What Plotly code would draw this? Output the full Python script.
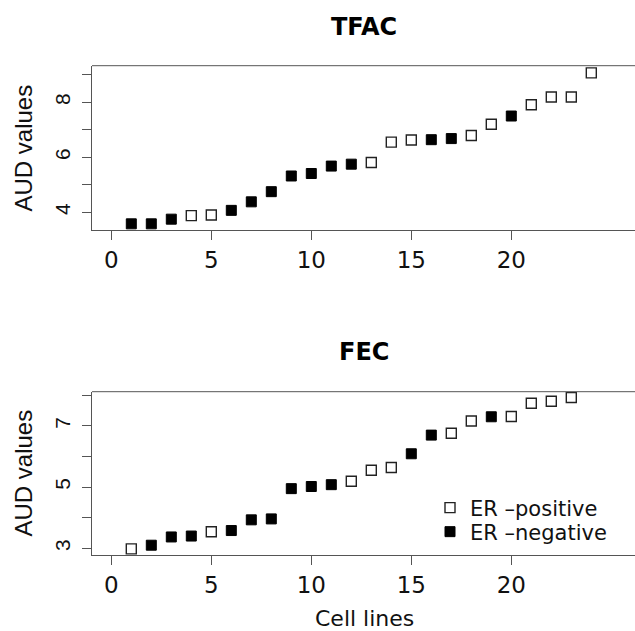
import plotly.graph_objects as go

# ---- data ----
tfac_x = list(range(1, 25))
tfac_y = [3.58, 3.58, 3.75, 3.88, 3.90, 4.07, 4.38, 4.75, 5.32, 5.41, 5.68, 5.75,
          5.81, 6.55, 6.63, 6.64, 6.68, 6.79, 7.20, 7.50, 7.91, 8.19, 8.19, 9.07]
tfac_er = ["neg", "neg", "neg", "pos", "pos", "neg", "neg", "neg", "neg", "neg", "neg", "neg",
           "pos", "pos", "pos", "neg", "neg", "pos", "pos", "neg", "pos", "pos", "pos", "pos"]

fec_x = list(range(1, 24))
fec_y = [2.98, 3.10, 3.37, 3.40, 3.54, 3.58, 3.93, 3.96, 4.95, 5.02, 5.08, 5.19,
         5.55, 5.64, 6.09, 6.70, 6.76, 7.16, 7.30, 7.31, 7.74, 7.81, 7.93]
fec_er = ["pos", "neg", "neg", "neg", "pos", "neg", "neg", "neg", "neg", "neg", "neg", "pos",
          "pos", "pos", "neg", "neg", "pos", "pos", "neg", "pos", "pos", "pos", "pos"]

x_ticks = [0, 5, 10, 15, 20]
tfac_yticks = [4, 5, 6, 7, 8, 9]
tfac_ylabels = ["4", "", "6", "", "8", ""]
fec_yticks = [3, 4, 5, 6, 7, 8]
fec_ylabels = ["3", "", "5", "", "7", ""]

panel_titles = ["TFAC", "FEC"]
legend_names = {"pos": "ER \u2013positive", "neg": "ER \u2013negative"}

W, H = 635, 631
L = 92
fig = go.Figure()

def sub(xs, ys, grp, key):
    return [x for x, g in zip(xs, grp) if g == key], [y for y, g in zip(ys, grp) if g == key]

style = {
    "pos": dict(symbol="square-open", size=10, color="#222", line=dict(width=1.4, color="#222")),
    "neg": dict(symbol="square", size=10, color="black", line=dict(width=1, color="black")),
}
legend_ref = {"pos": "legend", "neg": "legend2"}

for i, (xs, ys, grp) in enumerate([(tfac_x, tfac_y, tfac_er), (fec_x, fec_y, fec_er)]):
    xa = "x" if i == 0 else "x2"
    ya = "y" if i == 0 else "y2"
    for key in ["pos", "neg"]:
        sx, sy = sub(xs, ys, grp, key)
        fig.add_trace(go.Scatter(x=sx, y=sy, mode="markers", xaxis=xa, yaxis=ya,
                                 marker=style[key], name=legend_names[key],
                                 legend=legend_ref[key], showlegend=(i == 1)))

def ypx(p):
    return (H - p) / H

def xp(px):
    return (px - L) / (W - L)

axis_common = dict(showline=True, linecolor="#555", linewidth=1, ticks="outside",
                   ticklen=9, tickcolor="#555", showgrid=False, zeroline=False)

leg_common = dict(xanchor="left", yanchor="middle", bgcolor="rgba(0,0,0,0)",
                  font=dict(family="DejaVu Sans", size=21, color="#111"), itemwidth=30)

xrange = [-0.965, -0.965 + (W - L) / 20.0]
fig.update_layout(
    width=W, height=H, plot_bgcolor="white", paper_bgcolor="white",
    margin=dict(l=L, r=0, t=0, b=0),
    xaxis=dict(domain=[0, 1], anchor="y", range=xrange, tickvals=x_ticks,
               tickfont=dict(family="DejaVu Sans", size=23, color="#111"), **axis_common),
    yaxis=dict(domain=[ypx(230), ypx(65.7)], anchor="x", range=[3.356, 9.33],
               tickvals=tfac_yticks, ticktext=tfac_ylabels, tickangle=-90,
               ticklabelstandoff=4,
               tickfont=dict(family="Liberation Sans", size=21, color="#111"), **axis_common),
    xaxis2=dict(domain=[0, 1], anchor="y2", range=xrange, tickvals=x_ticks,
                tickfont=dict(family="DejaVu Sans", size=23, color="#111"), **axis_common),
    yaxis2=dict(domain=[ypx(555), ypx(391.7)], anchor="x2", range=[2.78, 8.12],
                tickvals=fec_yticks, ticktext=fec_ylabels, tickangle=-90,
                ticklabelstandoff=4,
                tickfont=dict(family="Liberation Sans", size=21, color="#111"), **axis_common),
    legend=dict(x=xp(430), y=ypx(508), **leg_common),
    legend2=dict(x=xp(430), y=ypx(532), **leg_common),
    showlegend=True,
)

# top border lines of each panel
for xr, yr in [("x domain", "y domain"), ("x2 domain", "y2 domain")]:
    fig.add_shape(type="line", xref=xr, yref=yr, x0=0, x1=1, y0=1, y1=1,
                  line=dict(color="#555", width=1))

# panel titles
for t, yc in zip(panel_titles, [27.5, 352]):
    fig.add_annotation(text="<b>" + t + "</b>", xref="paper", yref="paper", x=0.5, y=ypx(yc),
                       xanchor="center", yanchor="middle", showarrow=False,
                       font=dict(family="DejaVu Sans", size=24, color="black"))

# y axis titles
for yc in [148, 473]:
    fig.add_annotation(text="AUD values", xref="paper", yref="paper", x=xp(22.5), y=ypx(yc),
                       xanchor="center", yanchor="middle", showarrow=False, textangle=-90,
                       font=dict(family="Liberation Sans", size=24, color="#111"))

# x axis title
fig.add_annotation(text="Cell lines", xref="paper", yref="paper", x=xp(364), y=ypx(618),
                   xanchor="center", yanchor="middle", showarrow=False,
                   font=dict(family="DejaVu Sans", size=22, color="#111"))

fig.write_html("out.html", config={"displayModeBar": False},
               post_script="document.body.style.margin='0';")
